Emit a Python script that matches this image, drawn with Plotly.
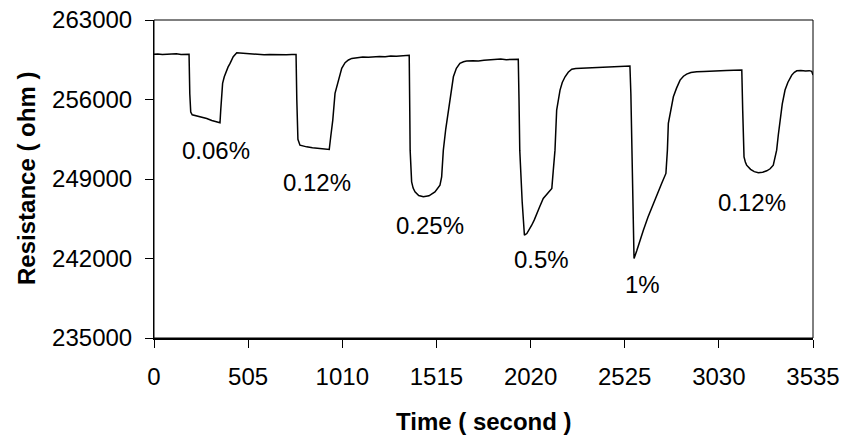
import plotly.graph_objects as go

# ---- data ----
time_s = [
    0, 20, 45, 70, 95, 120, 145, 170, 188,
    192, 197, 205, 230, 255, 283, 310, 335, 354,
    358, 363, 368, 377, 386, 397, 408, 425, 444, 460, 479, 500, 530, 560, 590, 620, 650, 680, 710, 740, 762,
    766, 772, 783, 800, 819, 850, 890, 915, 940,
    948, 959, 971, 989, 1007, 1025, 1043, 1061, 1090, 1120, 1150, 1177, 1210, 1240, 1270, 1300, 1330, 1355, 1369,
    1372, 1374, 1382, 1390, 1400, 1420, 1445, 1475, 1507, 1534, 1543, 1552,
    1565, 1579, 1592, 1606, 1622, 1641, 1660, 1677, 1710, 1740, 1770, 1802, 1830, 1860, 1890, 1920, 1954,
    1958, 1962, 1975, 1987, 2000, 2012, 2026, 2040, 2053, 2070, 2088, 2110, 2134, 2142, 2151,
    2160, 2168, 2178, 2190, 2205, 2222, 2241, 2262, 2285, 2320, 2360, 2400, 2440, 2480, 2520, 2553,
    2558, 2563, 2575, 2590, 2605, 2625, 2650, 2678, 2700, 2723, 2746, 2754,
    2759, 2772, 2786, 2803, 2822, 2840, 2857, 2880, 2911, 2950, 2990, 3030, 3070, 3110, 3153,
    3158, 3165, 3172, 3179, 3200, 3220, 3242, 3265, 3287, 3305, 3322, 3330, 3340, 3349, 3358, 3370,
    3385, 3400, 3421, 3435, 3448, 3470, 3495, 3515, 3528, 3535,
]
resistance_ohm = [
    259980, 260010, 259960, 260000, 259990, 260030, 259970, 260010, 259990,
    256500, 254900, 254650, 254550, 254420, 254330, 254150, 254020, 253950,
    255070, 256400, 257420, 258000, 258440, 258850, 259180, 259770, 260120, 260100, 260060, 259990, 259960,
    259980, 259940, 259970, 259950, 259990, 259930, 259960, 259970,
    256000, 252500, 251980, 251900, 251830, 251760, 251690, 251650, 251600,
    252720, 254190, 256540, 257710, 258740, 259240, 259480, 259620, 259700, 259740, 259720, 259770, 259790,
    259760, 259820, 259800, 259850, 259830, 259890,
    255000, 251540, 248750, 248200, 247870, 247550, 247430, 247520, 247870, 248460, 249190, 251540,
    253400, 255070, 256700, 258000, 258750, 259180, 259320, 259390, 259420, 259400, 259450, 259480, 259470,
    259560, 259510, 259530, 259540,
    256000, 251540, 247000, 244050, 244200, 244500, 244930, 245400, 245970, 246600, 247290, 247750, 248170,
    249780, 251540,
    255070, 256000, 256830, 257500, 258000, 258400, 258660, 258720, 258740, 258760, 258800, 258790, 258840,
    258870, 258900, 258950,
    256500, 251540, 242000, 242700, 243500, 244490, 245650, 246850, 247700, 248610, 249490, 251540,
    253900, 255200, 256240, 257000, 257710, 258050, 258240, 258380, 258450, 258470, 258520, 258510, 258560,
    258570, 258590,
    255000, 250950, 250500, 250220, 249850, 249650, 249550, 249600, 249720, 249900, 250220, 250700, 251540,
    252900, 254190, 255600,
    256830, 257500, 258150, 258400, 258530, 258560, 258520, 258540, 258480, 258150,
]

label_text = ["0.06%", "0.12%", "0.25%", "0.5%", "1%", "0.12%"]
label_t = [335, 873, 1481, 2080, 2621, 3206]
label_r = [251543, 248723, 244933, 241920, 239672, 246960]

x_ticks = [0, 505, 1010, 1515, 2020, 2525, 3030, 3535]
y_ticks = [235000, 242000, 249000, 256000, 263000]

FONT = "Arial, Liberation Sans, sans-serif"

fig = go.Figure()
fig.add_trace(go.Scatter(
    x=time_s, y=resistance_ohm, mode="lines",
    line=dict(color="black", width=1.5), showlegend=False, hoverinfo="skip",
))

annots = []
for t, r, s in zip(label_t, label_r, label_text):
    annots.append(dict(x=t, y=r, text=s, showarrow=False, xanchor="center", yanchor="middle",
                       font=dict(family=FONT, size=24, color="black")))

annots += [
    dict(text="<b>Time ( second )</b>", xref="paper", yref="paper", x=0.5, y=0,
         xanchor="center", yanchor="top", yshift=-68, showarrow=False,
         font=dict(family=FONT, size=24, color="black")),
    dict(text="<b>Resistance ( ohm )</b>", xref="paper", yref="paper", x=0, y=0.5,
         xanchor="center", yanchor="middle", xshift=-128, textangle=-90, showarrow=False,
         font=dict(family=FONT, size=24, color="black")),
]

fig.update_layout(
    width=846, height=438,
    margin=dict(l=154, r=33, t=20, b=100, autoexpand=False),
    plot_bgcolor="white", paper_bgcolor="white",
    font=dict(family=FONT, size=24, color="black"),
    xaxis=dict(
        range=[0, 3535], tickvals=x_ticks, ticktext=[str(v) for v in x_ticks],
        showline=True, linecolor="black", linewidth=2, mirror=False,
        ticks="outside", ticklen=8, tickwidth=1, tickcolor="black",
        showgrid=False, zeroline=False, automargin=False, ticklabelstandoff=8,
        ticklabeloverflow="allow",
        tickfont=dict(family=FONT, size=24, color="black"),
    ),
    yaxis=dict(
        range=[235000, 263000], tickvals=y_ticks, ticktext=[str(v) for v in y_ticks],
        showline=True, linecolor="black", linewidth=1,
        ticks="outside", ticklen=8, tickwidth=1, tickcolor="black",
        showgrid=False, zeroline=False, automargin=False, ticklabelstandoff=8,
        ticklabeloverflow="allow",
        tickfont=dict(family=FONT, size=24, color="black"),
    ),
    shapes=[dict(type="rect", xref="paper", yref="paper", x0=0, x1=1, y0=0, y1=1,
                 line=dict(color="black", width=1), layer="above")],
    annotations=annots,
)

# remove the browser's default 8px body margin so the figure fills the window exactly
fig.write_html("out.html", config={"displayModeBar": False, "staticPlot": True},
               post_script="document.body.style.margin='0';")
